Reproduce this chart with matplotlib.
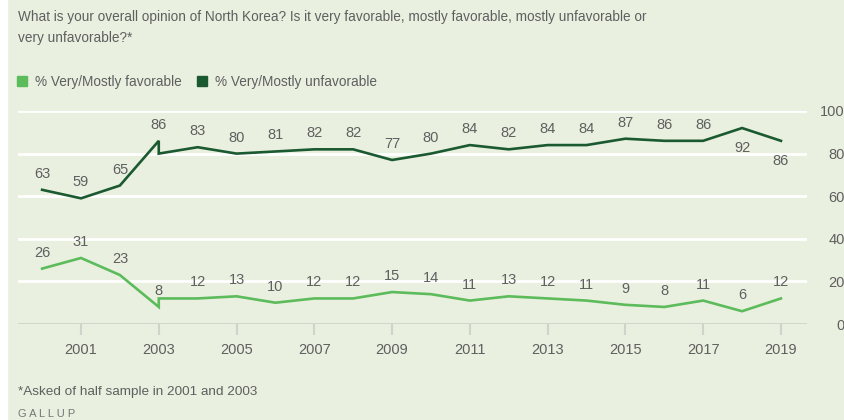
import matplotlib.pyplot as plt
from matplotlib.patches import Patch

# data (2003 has two readings: the half-sample one and the full one)
years = [2000, 2001, 2002, 2003, 2003, 2004, 2005, 2006, 2007, 2008, 2009,
         2010, 2011, 2012, 2013, 2014, 2015, 2016, 2017, 2018, 2019]
favorable = [26, 31, 23, 8, 12, 12, 13, 10, 12, 12, 15,
             14, 11, 13, 12, 11, 9, 8, 11, 6, 12]
unfavorable = [63, 59, 65, 86, 80, 83, 80, 81, 82, 82, 77,
               80, 84, 82, 84, 84, 87, 86, 86, 92, 86]
# which points carry a value label (second 2003 reading has none)
labelled = [True, True, True, True, False] + [True] * 16
unfav_below = [2018, 2019]

xticks = list(range(2001, 2020, 2))
yticks = [0, 20, 40, 60, 80, 100]

bg = "#e9f0e0"
fav_col = "#5cbb5a"
unfav_col = "#1b5a30"
txt_col = "#5f5f5f"

plt.rcParams['font.family'] = ['Liberation Sans', 'DejaVu Sans']

fig = plt.figure(figsize=(8.44, 4.2), dpi=100, facecolor=bg)
ax = fig.add_axes([18 / 844, 1 - 324 / 420, (807 - 18) / 844, (324 - 111) / 420])
ax.set_facecolor(bg)

ax.plot(years, unfavorable, color=unfav_col, lw=1.9, zorder=3, solid_joinstyle="miter")
ax.plot(years, favorable, color=fav_col, lw=1.9, zorder=3, solid_joinstyle="miter")

for x, f, u, lab in zip(years, favorable, unfavorable, labelled):
    if not lab:
        continue
    ax.annotate(str(f), (x, f), xytext=(0, 11.5), textcoords="offset points",
                ha="center", va="center", fontsize=10.5, color=txt_col)
    if x in unfav_below:
        ax.annotate(str(u), (x, u), xytext=(0, -14.5), textcoords="offset points",
                    ha="center", va="center", fontsize=10.5, color=txt_col)
    else:
        ax.annotate(str(u), (x, u), xytext=(0, 11.5), textcoords="offset points",
                    ha="center", va="center", fontsize=10.5, color=txt_col)

ax.set_xlim(1999.38, 2019.67)
ax.set_ylim(0, 100)
ax.set_xticks(xticks)
ax.set_yticks(yticks)
ax.yaxis.tick_right()
for lbl in ax.get_yticklabels():
    lbl.set_horizontalalignment("right")
ax.tick_params(axis="y", length=0, pad=27, labelsize=10.5, labelcolor=txt_col)
ax.tick_params(axis="x", length=8, width=1.5, color="#cfd4cb", pad=6,
               labelsize=10.5, labelcolor=txt_col)

for y in yticks[1:]:
    ax.axhline(y, color="white", lw=2, zorder=1)
ax.axhline(0, color="#cfd4cb", lw=2, zorder=1)
for s in ax.spines.values():
    s.set_visible(False)

fig.text(18 / 844, 1 - 17 / 420,
         "What is your overall opinion of North Korea? Is it very favorable, mostly favorable, mostly unfavorable or",
         fontsize=9.8, color=txt_col, va="center")
fig.text(18 / 844, 1 - 38 / 420, "very unfavorable?*", fontsize=9.8, color=txt_col, va="center")

handles = [Patch(color=fav_col, label="% Very/Mostly favorable"),
           Patch(color=unfav_col, label="% Very/Mostly unfavorable")]
fig.legend(handles=handles, loc="center left", bbox_to_anchor=(17 / 844, 1 - 82 / 420),
           ncol=2, frameon=False, fontsize=9.8, labelcolor=txt_col,
           handlelength=0.75, handleheight=0.75, handletextpad=0.6,
           columnspacing=1.1, borderpad=0, borderaxespad=0)

fig.text(18 / 844, 1 - 392 / 420, "*Asked of half sample in 2001 and 2003",
         fontsize=9.7, color=txt_col, va="center")
fig.text(18 / 844, 1 - 414 / 420, "G A L L U P", fontsize=8, color="#777777", va="center")

# white strip on the left edge as in the screenshot
fig.patches.append(plt.Rectangle((0, 0), 7 / 844, 1, transform=fig.transFigure,
                                 color="white", zorder=0))

fig.savefig("out.png", dpi=100, facecolor=bg)
